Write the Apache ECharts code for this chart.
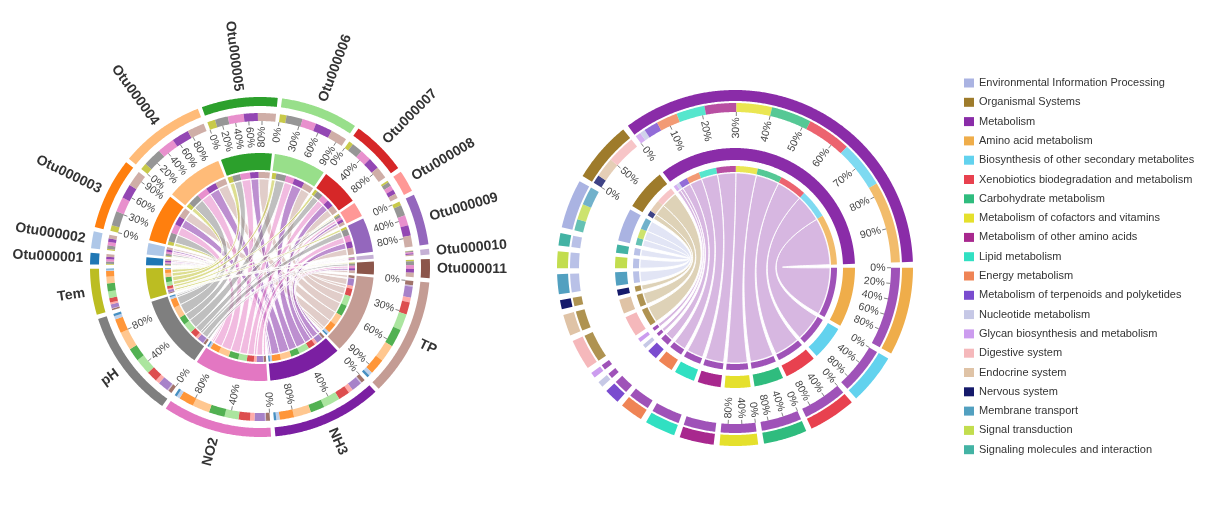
<!DOCTYPE html>
<html><head><meta charset="utf-8">
<script src="https://cdn.jsdelivr.net/npm/echarts@6/dist/echarts.min.js"></script>
<style>html,body{margin:0;padding:0;background:#fff}#chart{width:1212px;height:515px}</style>
</head><body><div id="chart"></div>
<script>
// ================= DATA =================
// Left chord: OTUs vs environmental factors
const otuNames = ['Otu000001','Otu000002','Otu000003','Otu000004','Otu000005','Otu000006','Otu000007','Otu000008','Otu000009','Otu000010','Otu000011'];
const otuColors = ['#1f77b4','#aec7e8','#ff7f0e','#ffbb78','#2ca02c','#98df8a','#d62728','#ff9896','#9467bd','#c5b0d5','#8c564b'];
const factorNames = ['TP','NH3','NO2','pH','Tem'];
const factorColors = ['#c49c94','#7b1fa2','#e377c2','#7f7f7f','#bcbd22'];
// rows: OTUs; columns: TP, NH3, NO2, pH, Tem
const otuFactorValues = [
  [1.0, 0.9, 0.9, 0.85, 0.35],
  [1.4, 1.3, 1.3, 1.3, 0.5],
  [5.9, 5.4, 5.6, 5.4, 2.2],
  [6.5, 6.5, 6.5, 7.0, 2.5],
  [6.8, 5.3, 6.0, 4.9, 3.0],
  [6.2, 6.4, 5.3, 6.1, 2.5],
  [4.6, 4.3, 4.3, 4.1, 1.7],
  [1.8, 1.7, 1.7, 1.6, 0.7],
  [4.2, 3.9, 3.9, 4.0, 1.5],
  [0.5, 0.45, 0.45, 0.45, 0.15],
  [1.6, 1.45, 1.45, 1.4, 0.6]
];
const otuTickStep = [0, 0, 30, 20, 20, 30, 40, 0, 40, 0, 0];
const factorTickStep = [30, 40, 40, 40, 0];
const leftOrder = ['Otu000005','Otu000006','Otu000007','Otu000008','Otu000009','Otu000010','Otu000011',
  'TP','NH3','NO2','pH','Tem','Otu000001','Otu000002','Otu000003','Otu000004'];

// Right chord: KEGG level 1 vs level 2
const level1Names = ['Environmental Information Processing','Organismal Systems','Metabolism'];
const level1Colors = ['#aab3e2','#9e7b2b','#8a2ca8'];
const level1TickStep = [0, 50, 10];
const level2Names = ['Amino acid metabolism','Biosynthesis of other secondary metabolites','Xenobiotics biodegradation and metabolism',
  'Carbohydrate metabolism','Metabolism of cofactors and vitamins','Metabolism of other amino acids','Lipid metabolism',
  'Energy metabolism','Metabolism of terpenoids and polyketides','Nucleotide metabolism','Glycan biosynthesis and metabolism',
  'Digestive system','Endocrine system','Nervous system','Membrane transport','Signal transduction','Signaling molecules and interaction'];
const level2Colors = ['#efad4a','#62d2ee','#e8414f','#2fbc7e','#e5e02c','#a8288e','#31e0c2','#ef8455','#7a4ccf','#c6c8e6','#cc9cef',
  '#f5b8bb','#dfc3a6','#151a6b','#52a0c0','#c2dd4e','#43b3a4'];
const level2Parent = ['Metabolism','Metabolism','Metabolism','Metabolism','Metabolism','Metabolism','Metabolism','Metabolism','Metabolism','Metabolism','Metabolism',
  'Organismal Systems','Organismal Systems','Organismal Systems',
  'Environmental Information Processing','Environmental Information Processing','Environmental Information Processing'];
const level2Values = [28.8, 16.5, 15.5, 14.2, 12.5, 11.2, 10.0, 7.5, 5.0, 1.9, 1.9, 10.0, 7.0, 3.0, 6.5, 5.5, 4.0];
const level2TickStep = [20, 40, 40, 40, 40, 0, 0, 0, 0, 0, 0, 0, 0, 0, 0, 0, 0];
const rightOrder = ['Metabolism'].concat(level2Names, ['Environmental Information Processing','Organismal Systems']);

// ================= LAYOUT PARAMETERS =================
const LEFT = { center:[260,267], outer:[161,170], ring2:[146,154], inner:[97,114], inner2:[89,95], chordR:88, start:-20, gap:1.4625, alpha:0.5, names:true };
const RIGHT = { center:[735,268], outer:[167,178], ring2:[156,165], inner:[108,120], inner2:[96,102], chordR:95, start:-37, gap:1.9, alpha:0.34, names:false };

// ================= BUILD =================
const norm = d => ((d % 360) + 360) % 360;

function layoutChord(nodes, links, order, startDeg, gapDeg) {
  const byName = {};
  nodes.forEach(n => byName[n.name] = n);
  const segs = order.map(name => Object.assign({}, byName[name], {parts: []}));
  const idx = {};
  segs.forEach((s, i) => idx[s.name] = i);
  links.forEach((l, li) => {
    segs[idx[l.s]].parts.push({li, side:'src', other:l.t, v:l.v});
    segs[idx[l.t]].parts.push({li, side:'tgt', other:l.s, v:l.v});
  });
  segs.forEach(s => s.size = s.parts.reduce((a, p) => a + p.v, 0));
  const total = segs.reduce((a, s) => a + s.size, 0);
  const k = (360 - gapDeg * segs.length) / total;
  let a = startDeg;
  segs.forEach(s => { s.a0 = a; s.a1 = a + s.size * k; a = s.a1 + gapDeg; });
  const ends = links.map(() => ({}));
  segs.forEach(s => {
    const dist = p => norm(segs[idx[p.other]].a0 - s.a0);
    s.parts.sort((p, q) => dist(q) - dist(p));
    let t = s.a0;
    s.parts.forEach(p => {
      p.a0 = t; p.a1 = t + p.v * k; t = p.a1;
      p.color = byName[p.other].color;
      ends[p.li][p.side] = [p.a0, p.a1];
    });
  });
  return {segs, ends, links, byName, idx};
}

const leftNodes = otuNames.map((n, i) => ({name:n, color:otuColors[i], tick:otuTickStep[i]}))
  .concat(factorNames.map((n, i) => ({name:n, color:factorColors[i], tick:factorTickStep[i]})));
const leftLinks = [];
otuNames.forEach((o, i) => factorNames.forEach((f, j) => {
  if (otuFactorValues[i][j] > 0) leftLinks.push({s:o, t:f, v:otuFactorValues[i][j], colorOf:f});
}));
const rightNodes = level1Names.map((n, i) => ({name:n, color:level1Colors[i], tick:level1TickStep[i]}))
  .concat(level2Names.map((n, i) => ({name:n, color:level2Colors[i], tick:level2TickStep[i]})));
const rightLinks = level2Names.map((n, i) => ({s:level2Parent[i], t:n, v:level2Values[i], colorOf:level2Parent[i]}));

const LL = layoutChord(leftNodes, leftLinks, leftOrder, LEFT.start, LEFT.gap);
const RL = layoutChord(rightNodes, rightLinks, rightOrder, RIGHT.start, RIGHT.gap);

function rgba(hex, a) {
  const h = hex.replace('#','');
  return 'rgba(' + parseInt(h.substr(0,2),16) + ',' + parseInt(h.substr(2,2),16) + ',' + parseInt(h.substr(4,2),16) + ',' + a + ')';
}
function arcPoints(api, r, d0, d1, out) {
  const n = Math.max(2, Math.ceil(Math.abs(d1 - d0) / 0.4) + 1);
  for (let i = 0; i < n; i++) { const d = d0 + (d1 - d0) * i / (n - 1); out.push(api.coord([r, norm(d)])); }
  return out;
}
function band(api, radii, d0, d1, fill, opacity) {
  const pts = arcPoints(api, radii[1], d0, d1, []);
  arcPoints(api, radii[0], d1, d0, pts);
  return {type:'polygon', shape:{points:pts}, style:{fill:fill, opacity:opacity}, silent:true};
}
function bezierPoints(p0, c, p1, out) {
  for (let i = 1; i <= 40; i++) {
    const t = i / 40, u = 1 - t;
    out.push([u*u*p0[0] + 2*u*t*c[0] + t*t*p1[0], u*u*p0[1] + 2*u*t*c[1] + t*t*p1[1]]);
  }
}
function radialText(api, C, r, deg, text, font, fill, startAtAnchorOutward) {
  const d = norm(deg);
  const p = api.coord([r, d]);
  const outward = d < 180;
  let rot = Math.atan2(-(p[1] - C[1]), p[0] - C[0]);
  if (!outward) rot += Math.PI;
  let align = outward ? 'left' : 'right';
  if (!startAtAnchorOutward) align = outward ? 'right' : 'left';
  return {type:'text', x:p[0], y:p[1], rotation:rot, silent:true,
    style:{text:text, font:font, fill:fill, align:align, verticalAlign:'middle'}};
}

function chordRenderer(L, geo) {
  return function (params, api) {
    const li = api.value(2);
    const e = L.ends[li];
    const link = L.links[li];
    const C = api.coord([0, 0]);
    const r = geo.chordR;
    const pts = arcPoints(api, r, e.src[0], e.src[1], []);
    bezierPoints(pts[pts.length - 1], C, api.coord([r, norm(e.tgt[0])]), pts);
    arcPoints(api, r, e.tgt[0], e.tgt[1], pts);
    bezierPoints(pts[pts.length - 1], C, api.coord([r, norm(e.src[0])]), pts);
    return {type:'polygon', shape:{points:pts}, silent:true,
      style:{fill:rgba(L.byName[link.colorOf].color, geo.alpha), stroke:'#ffffff', lineWidth:0.9}};
  };
}

function nodeRenderer(L, geo) {
  return function (params, api) {
    const s = L.segs[api.value(2)];
    const C = api.coord([0, 0]);
    const ch = [];
    ch.push(band(api, geo.outer, s.a0, s.a1, s.color, 1));
    ch.push(band(api, geo.inner, s.a0, s.a1, s.color, 1));
    s.parts.forEach(p => {
      ch.push(band(api, geo.ring2, p.a0, p.a1, p.color, 0.82));
      ch.push(band(api, geo.inner2, p.a0, p.a1, p.color, 0.82));
    });
    if (s.tick) {
      for (let pct = 0; pct < 100; pct += s.tick) {
        const d = norm(s.a0 + (s.a1 - s.a0) * pct / 100);
        const q0 = api.coord([geo.ring2[0], d]);
        const q1 = api.coord([geo.ring2[0] - 4, d]);
        ch.push({type:'line', shape:{x1:q0[0], y1:q0[1], x2:q1[0], y2:q1[1]}, style:{stroke:'#666', lineWidth:0.8}, silent:true});
        ch.push(radialText(api, C, geo.ring2[0] - 5.5, d, pct + '%', '10.5px Arial, "Liberation Sans", sans-serif', '#444', false));
      }
    }
    if (geo.names) {
      ch.push(radialText(api, C, geo.outer[1] + 7, (s.a0 + s.a1) / 2, s.name,
        'bold 14px Arial, "Liberation Sans", sans-serif', '#333', true));
    }
    return {type:'group', children:ch};
  };
}

const series = [];
series.push({type:'custom', name:'left-links', coordinateSystem:'polar', polarIndex:0, silent:true,
  data: LL.links.map((l, i) => [0, 0, i]), renderItem: chordRenderer(LL, LEFT)});
series.push({type:'custom', name:'left-nodes', coordinateSystem:'polar', polarIndex:0, silent:true,
  data: LL.segs.map((s, i) => [0, 0, i]), renderItem: nodeRenderer(LL, LEFT)});
series.push({type:'custom', name:'right-links', coordinateSystem:'polar', polarIndex:1, silent:true,
  data: RL.links.map((l, i) => [0, 0, i]), renderItem: chordRenderer(RL, RIGHT)});
RL.segs.forEach((s, i) => {
  series.push({type:'custom', name:s.name, coordinateSystem:'polar', polarIndex:1, silent:true,
    itemStyle:{color:s.color}, data:[[0, 0, i]], renderItem: nodeRenderer(RL, RIGHT)});
});

const chart = echarts.init(document.getElementById('chart'), null, {renderer:'canvas'});
chart.setOption({
  backgroundColor:'#ffffff',
  animation:false,
  polar:[{center:LEFT.center, radius:LEFT.outer[1]}, {center:RIGHT.center, radius:RIGHT.outer[1]}],
  angleAxis:[
    {polarIndex:0, type:'value', min:0, max:360, startAngle:90, clockwise:true, show:false},
    {polarIndex:1, type:'value', min:0, max:360, startAngle:90, clockwise:true, show:false}
  ],
  radiusAxis:[
    {polarIndex:0, type:'value', min:0, max:LEFT.outer[1], show:false},
    {polarIndex:1, type:'value', min:0, max:RIGHT.outer[1], show:false}
  ],
  legend:{
    data: level1Names.concat(level2Names),
    orient:'vertical', left:964, top:77, padding:0,
    itemWidth:10, itemHeight:9, itemGap:7.3, icon:'rect', selectedMode:false,
    textStyle:{fontSize:11, color:'#333', fontFamily:'Arial, "Liberation Sans", sans-serif', lineHeight:12}
  },
  series: series
});
</script>
</body></html>
